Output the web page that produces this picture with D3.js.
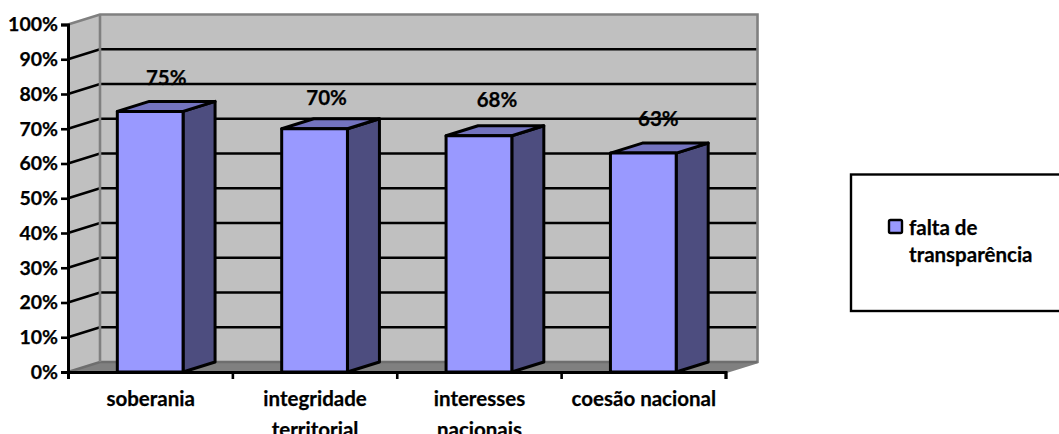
<!DOCTYPE html>
<html>
<head>
<meta charset="utf-8">
<title>falta de transparência</title>
<style>
    html, body { margin: 0; padding: 0; background: #fff; overflow: hidden; }
    svg { display: block; }
    text { font-family: Lato, "Open Sans", sans-serif; font-weight: 700; fill: #000; font-size: 20.5px; stroke: #000; stroke-width: 0.25px; }
</style>
</head>
<body>
<svg width="1059" height="434"></svg>
<script src="https://cdn.jsdelivr.net/npm/d3@7"></script>
<script>
var categories = [["soberania"], ["integridade", "territorial"], ["interesses", "nacionais"], ["coesão nacional"]];
var values = [75, 70, 68, 63];
var valueLabels = ["75%", "70%", "68%", "63%"];
var tickValues = [0, 10, 20, 30, 40, 50, 60, 70, 80, 90, 100];
var legendLines = ["falta de", "transparência"];

var svg = d3.select("svg");
var x0 = 68, x1 = 725.5, yBase = 372, yTop = 24.5;
var dx = 32, dy = -10;   // depth of the 3d box

var x = d3.scaleBand().domain(d3.range(categories.length)).range([x0, x1]).paddingInner(0.6).paddingOuter(0.3);
var y = d3.scaleLinear().domain([0, 100]).range([yBase, yTop]);

function poly(g, pts, fill) {
    return g.append("polygon").attr("points", pts.map(function(p) { return p.join(","); }).join(" ")).attr("fill", fill);
}

// walls and floor
var walls = svg.append("g");
poly(walls, [[x0, yBase], [x0 + dx, yBase + dy], [x0 + dx, yTop + dy], [x0, yTop]], "#c0c0c0");
poly(walls, [[x0 + dx, yBase + dy], [x1 + dx, yBase + dy], [x1 + dx, yTop + dy], [x0 + dx, yTop + dy]], "#c0c0c0");
poly(walls, [[x0, yBase], [x1, yBase], [x1 + dx, yBase + dy], [x0 + dx, yBase + dy]], "#808080");

// value labels sit behind the gridlines, each one nudged by hand
var labelNudge = [[0, 0], [-4, 2], [2, -3], [-1, -1]];
svg.append("g").selectAll("text").data(values).enter().append("text")
    .attr("x", function(d, i) { return x(i) + x.bandwidth() / 2 + dx / 2 + labelNudge[i][0]; })
    .attr("y", function(d, i) { return y(d) + dy * 2 - 6 + labelNudge[i][1]; })
    .attr("text-anchor", "middle")
    .text(function(d, i) { return valueLabels[i]; });

// gridlines, back wall and left wall
var grid = svg.append("g").attr("stroke", "#000").attr("stroke-width", 2.6).attr("fill", "none");
tickValues.slice(1, -1).forEach(function(t) {
    grid.append("polyline").attr("points", [[x0, y(t)], [x0 + dx, y(t) + dy], [x1 + dx, y(t) + dy]].join(" "));
});
var edge = svg.append("g").attr("stroke", "#808080").attr("stroke-width", 2.6).attr("fill", "none");
edge.append("polyline").attr("points", [[x0, yTop], [x0 + dx, yTop + dy], [x1 + dx, yTop + dy], [x1 + dx, yBase + dy], [x1, yBase]].join(" "));
edge.append("polyline").attr("points", [[x0, yBase], [x0 + dx, yBase + dy], [x1 + dx, yBase + dy]].join(" ")).attr("stroke", "#6e6e6e");
edge.append("line").attr("x1", x0 + dx).attr("x2", x0 + dx).attr("y1", yTop + dy).attr("y2", yBase + dy);

// bars
var bars = svg.append("g").attr("stroke", "#000").attr("stroke-width", 3).attr("stroke-linejoin", "round");
values.forEach(function(v, i) {
    var l = x(i), r = l + x.bandwidth(), t = y(v), b = y(0);
    poly(bars, [[r, t], [r + dx, t + dy], [r + dx, b + dy], [r, b]], "#4d4d7f");
    poly(bars, [[l, t], [l + dx, t + dy], [r + dx, t + dy], [r, t]], "#7373bf");
    poly(bars, [[l, t], [r, t], [r, b], [l, b]], "#9999ff");
});

// axes
var yAxis = d3.axisLeft(y).tickValues(tickValues).tickSize(7).tickPadding(3).tickFormat(function(d) { return d + "%"; });
var gy = svg.append("g").attr("transform", "translate(" + x0 + ",0)").call(yAxis);
gy.attr("font-size", null).attr("font-family", null);
gy.select(".domain").attr("stroke", "#000").attr("stroke-width", 3);
gy.selectAll(".tick line").attr("stroke", "#000").attr("stroke-width", 2.6);
gy.selectAll("text").style("font-size", "19.5px");

var xEdges = d3.scaleLinear().domain([0, categories.length]).range([x0, x1]);
var gx = svg.append("g").attr("transform", "translate(0," + yBase + ")")
    .call(d3.axisBottom(xEdges).tickValues(d3.range(categories.length + 1)).tickSize(7).tickFormat(""));
gx.select(".domain").attr("stroke", "#000").attr("stroke-width", 3);
gx.selectAll(".tick line").attr("stroke", "#000").attr("stroke-width", 2.6);

var labels = svg.append("g").selectAll("text").data(categories).enter().append("text")
    .attr("text-anchor", "middle")
    .attr("transform", function(d, i) { return "translate(" + (x(i) + x.bandwidth() / 2 + 0.5) + ",406)"; });
labels.selectAll("tspan").data(function(d) { return d; }).enter().append("tspan")
    .attr("x", 0)
    .attr("y", function(d, i) { return i * 31; })
    .text(function(d) { return d; });

// legend
var legend = svg.append("g");
legend.append("rect").attr("x", 851).attr("y", 174.5).attr("width", 230).attr("height", 136.5)
    .attr("fill", "#fff").attr("stroke", "#000").attr("stroke-width", 2.4);
legend.append("rect").attr("x", 889).attr("y", 220).attr("width", 13).attr("height", 13).attr("rx", 1.5)
    .attr("fill", "#9999ff").attr("stroke", "#000").attr("stroke-width", 2.4);
legend.selectAll("text").data(legendLines).enter().append("text")
    .attr("x", 909)
    .attr("y", function(d, i) { return 235 + i * 27; })
    .text(function(d) { return d; });
</script>
</body>
</html>
